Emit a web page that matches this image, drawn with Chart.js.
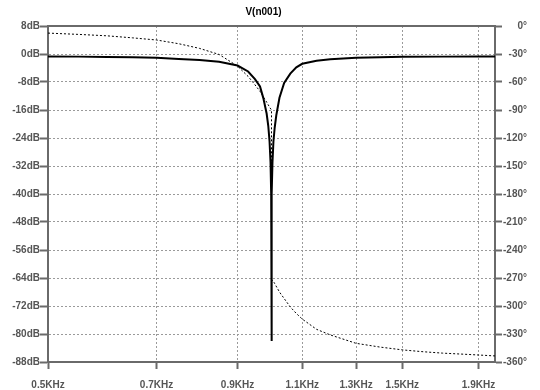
<!DOCTYPE html>
<html>
<head>
<meta charset="utf-8">
<script src="https://cdn.jsdelivr.net/npm/chart.js@4.4.1/dist/chart.umd.min.js"></script>
<style>
  body { margin: 0; background: #fff; }
  #wrap { width: 540px; height: 390px; }
</style>
</head>
<body>
<div id="wrap"><canvas id="grafico"></canvas></div>
<script>
// datos
const magFreq = [500, 550, 600, 650, 700, 750, 800, 850, 900, 930, 950, 965, 975, 985, 990, 994, 997, 999, 1000,
  1001, 1003, 1006, 1010, 1015, 1025, 1040, 1060, 1080, 1100, 1150, 1200, 1300, 1400, 1500, 1700, 1900, 2000];
const magDb = [-0.7, -0.75, -0.85, -0.95, -1.1, -1.4, -1.7, -2.2, -3.3, -5.0, -7.2, -9.3, -12.6, -17.0, -20.5, -25, -31, -40, -82,
  -40, -31, -25, -21, -17.5, -12.5, -8.3, -5.6, -3.8, -2.8, -1.9, -1.5, -1.05, -0.9, -0.82, -0.75, -0.7, -0.7];

const phaseFreq = [500, 550, 600, 650, 700, 750, 800, 850, 900, 930, 950, 965, 975, 985, 990, 995, 1000, 1000,
  1005, 1010, 1025, 1040, 1060, 1080, 1100, 1150, 1200, 1300, 1400, 1500, 1600, 1700, 1800, 1900, 2000];
const phaseDeg = [-7.6, -9, -10.5, -12.7, -15, -19, -24, -30.5, -43, -54, -63, -70, -76, -81.5, -84.5, -87.5, -90, -272,
  -273, -276, -285, -292, -301, -308, -314, -325, -331, -340, -344, -347, -349, -350.5, -351.5, -352.5, -353.5];

const freqTicks = [500, 700, 900, 1100, 1300, 1500, 1900];
const freqTickLabels = ['0.5KHz', '0.7KHz', '0.9KHz', '1.1KHz', '1.3KHz', '1.5KHz', '1.9KHz'];

const gris = '#6a6a6a';
const fuente = { family: 'Liberation Sans, Arial, sans-serif', size: 10, weight: 'bold' };

// linea superior del marco
const marco = {
  id: 'marco',
  afterDraw(chart) {
    const { ctx, chartArea } = chart;
    ctx.save();
    ctx.strokeStyle = gris;
    ctx.lineWidth = 2;
    ctx.beginPath();
    ctx.moveTo(chartArea.left - 1, chartArea.top);
    ctx.lineTo(chartArea.right + 1, chartArea.top);
    ctx.stroke();
    ctx.restore();
  }
};

new Chart(document.getElementById('grafico'), {
  type: 'scatter',
  data: {
    datasets: [{
      label: 'mag',
      data: magFreq.map((f, i) => ({ x: f, y: magDb[i] })),
      showLine: true,
      borderColor: '#000',
      borderWidth: 2,
      pointRadius: 0,
      yAxisID: 'y'
    }, {
      label: 'fase',
      data: phaseFreq.map((f, i) => ({ x: f, y: phaseDeg[i] })),
      showLine: true,
      borderColor: '#000',
      borderWidth: 1,
      borderDash: [2, 2],
      pointRadius: 0,
      yAxisID: 'y2'
    }]
  },
  options: {
    responsive: true,
    maintainAspectRatio: false,
    animation: false,
    layout: { padding: { left: 0, right: 13, top: 0, bottom: 0 } },
    plugins: {
      legend: { display: false },
      tooltip: { enabled: false },
      title: {
        display: true,
        text: 'V(n001)',
        color: '#000',
        font: fuente,
        padding: { top: 6, bottom: 8 }
      }
    },
    scales: {
      x: {
        type: 'logarithmic',
        min: 500,
        max: 2000,
        afterBuildTicks: s => { s.ticks = freqTicks.map(v => ({ value: v })); },
        afterFit: s => { s.height = 28; },
        ticks: {
          color: '#555',
          font: fuente,
          padding: 10,
          maxRotation: 0,
          autoSkip: false,
          callback: (v) => freqTickLabels[freqTicks.indexOf(v)]
        },
        grid: { color: '#9a9a9a', lineWidth: 1, tickLength: 7, tickColor: gris, tickWidth: 2 },
        border: { color: gris, width: 2, dash: [2, 2] }
      },
      y: {
        position: 'left',
        min: -88,
        max: 8,
        afterFit: s => { s.width = 48; },
        ticks: { stepSize: 8, color: '#555', font: fuente, padding: 0, callback: v => v + 'dB' },
        grid: { color: '#9a9a9a', lineWidth: 1, tickLength: 8, tickColor: gris, tickWidth: 2 },
        border: { color: gris, width: 2, dash: [2, 2] }
      },
      y2: {
        position: 'right',
        min: -360,
        max: 0,
        afterFit: s => { s.width = 32; },
        ticks: { stepSize: 30, color: '#555', font: fuente, padding: 0, crossAlign: 'far', callback: v => v + '°' },
        grid: { drawOnChartArea: false, tickLength: 7, tickColor: gris, tickWidth: 2 },
        border: { color: gris, width: 2 }
      }
    }
  },
  plugins: [marco]
});
</script>
</body>
</html>
